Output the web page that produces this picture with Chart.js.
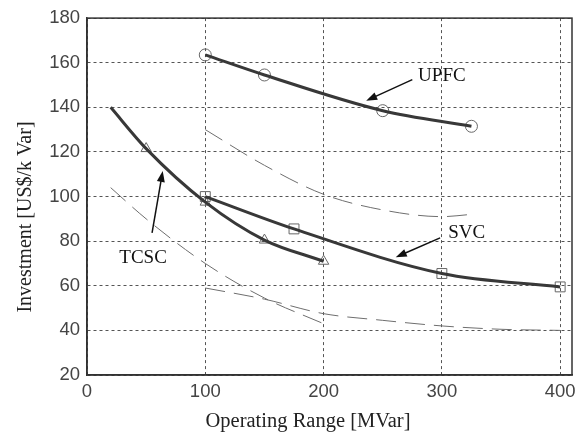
<!DOCTYPE html>
<html>
<head>
<meta charset="utf-8">
<script src="https://cdn.jsdelivr.net/npm/chart.js@4/dist/chart.umd.min.js"></script>
<style>
  html, body { margin: 0; padding: 0; background: #fff; }
</style>
</head>
<body>
<canvas id="chart" width="582" height="433"></canvas>
<script>
// Axis ticks
const xTicks = [0, 100, 200, 300, 400];
const yTicks = [20, 40, 60, 80, 100, 120, 140, 160, 180];
const xTitle = 'Operating Range [MVar]';
const yTitle = 'Investment [US$/k Var]';

// Solid curves
const upfcX = [100, 150, 250, 325];
const upfcY = [163.5, 154.5, 138.5, 131.5];
const svcX = [100, 175, 300, 400];
const svcY = [100, 85.5, 65.5, 59.5];
const tcscX = [20, 50, 100, 150, 200];
const tcscY = [140, 121.5, 97.5, 80.5, 71];

// Marker positions on the solid curves
const upfcMarkX = [100, 150, 250, 325];
const upfcMarkY = [163.5, 154.5, 138.5, 131.5];
const svcMarkX = [100, 175, 300, 400];
const svcMarkY = [100, 85.5, 65.5, 59.5];
const tcscMarkX = [50, 100, 150, 200];
const tcscMarkY = [121.5, 97.5, 80.5, 71];

// Thin dashed curves
const upfcDashX = [100, 150, 200, 250, 300, 325];
const upfcDashY = [130, 114, 101, 94, 91, 92];
const tcscDashX = [20, 50, 100, 150, 200];
const tcscDashY = [104, 90, 70, 54.5, 43];
const svcDashX = [100, 150, 200, 250, 300, 350, 400];
const svcDashY = [59, 54, 47.5, 44.5, 42, 40.5, 40];

// Labels with arrows (data units)
const notes = [
    { text: 'UPFC', at: [300, 154.2], from: [275, 152.4], to: [236, 143] },
    { text: 'SVC', at: [321, 83.7], from: [298.5, 81.5], to: [261, 72.8] },
    { text: 'TCSC', at: [47.4, 72.6], from: [55, 83.7], to: [64, 111.5] }
];

const pts = (xs, ys) => xs.map((x, i) => ({ x: x, y: ys[i] }));

const solid = (xs, ys) => ({
    data: pts(xs, ys),
    borderColor: '#383838',
    borderWidth: 3,
    pointRadius: 0,
    cubicInterpolationMode: 'monotone',
    fill: false
});

const dashed = (xs, ys) => ({
    data: pts(xs, ys),
    borderColor: '#6e6e6e',
    borderWidth: 1,
    borderDash: [20, 9],
    pointRadius: 0,
    cubicInterpolationMode: 'monotone',
    fill: false
});

const marks = (xs, ys, style, r) => ({
    data: pts(xs, ys),
    showLine: false,
    pointStyle: style,
    pointRadius: r,
    pointBorderColor: '#666',
    pointBackgroundColor: 'rgba(0,0,0,0)',
    pointBorderWidth: 1
});

const frameAndNotes = {
    id: 'frameAndNotes',
    afterDatasetsDraw(chart) {
        const { ctx, chartArea: a, scales: { x, y } } = chart;
        ctx.save();
        ctx.strokeStyle = '#333';
        ctx.lineWidth = 1.5;
        ctx.strokeRect(a.left, a.top, a.right - a.left, a.bottom - a.top);

        ctx.fillStyle = '#111';
        ctx.strokeStyle = '#111';
        ctx.font = '19px "Liberation Serif"';
        ctx.textAlign = 'center';
        ctx.textBaseline = 'middle';
        notes.forEach(n => {
            ctx.fillText(n.text, x.getPixelForValue(n.at[0]), y.getPixelForValue(n.at[1]));
            const x1 = x.getPixelForValue(n.from[0]), y1 = y.getPixelForValue(n.from[1]);
            const x2 = x.getPixelForValue(n.to[0]), y2 = y.getPixelForValue(n.to[1]);
            const ang = Math.atan2(y2 - y1, x2 - x1);
            ctx.lineWidth = 1.5;
            ctx.beginPath();
            ctx.moveTo(x1, y1);
            ctx.lineTo(x2 - 8 * Math.cos(ang), y2 - 8 * Math.sin(ang));
            ctx.stroke();
            // head
            ctx.beginPath();
            ctx.moveTo(x2, y2);
            ctx.lineTo(x2 - 11 * Math.cos(ang) + 4 * Math.sin(ang), y2 - 11 * Math.sin(ang) - 4 * Math.cos(ang));
            ctx.lineTo(x2 - 11 * Math.cos(ang) - 4 * Math.sin(ang), y2 - 11 * Math.sin(ang) + 4 * Math.cos(ang));
            ctx.closePath();
            ctx.fill();
        });

        // axis titles (placed a little off-centre, as in the original)
        ctx.fillStyle = '#222';
        ctx.font = '20.5px "Liberation Serif"';
        ctx.textBaseline = 'alphabetic';
        ctx.fillText(xTitle, 308, 427);
        ctx.translate(31, 217);
        ctx.rotate(-Math.PI / 2);
        ctx.font = '20px "Liberation Serif"';
        ctx.fillText(yTitle, 0, 0);
        ctx.restore();
    }
};

const tickFont = { family: '"Liberation Sans", Arial, sans-serif', size: 18.5 };

new Chart(document.getElementById('chart').getContext('2d'), {
    type: 'line',
    data: {
        datasets: [
            dashed(upfcDashX, upfcDashY),
            dashed(tcscDashX, tcscDashY),
            dashed(svcDashX, svcDashY),
            solid(upfcX, upfcY),
            solid(svcX, svcY),
            solid(tcscX, tcscY),
            marks(upfcMarkX, upfcMarkY, 'circle', 6),
            marks(svcMarkX, svcMarkY, 'rect', 7),
            marks(tcscMarkX, tcscMarkY, 'triangle', 6)
        ]
    },
    options: {
        responsive: false,
        animation: false,
        layout: { padding: { top: 16, right: 10, bottom: 0, left: 0 } },
        plugins: { legend: { display: false }, tooltip: { enabled: false } },
        scales: {
            x: {
                type: 'linear',
                min: 0,
                max: 410,
                afterBuildTicks: s => { s.ticks = xTicks.map(v => ({ value: v })); },
                afterFit: s => { s.height = 58; },
                ticks: { font: tickFont, color: '#444', padding: 6, maxRotation: 0, autoSkip: false },
                grid: { color: '#555', lineWidth: 1, drawTicks: false },
                border: { display: true, color: '#333', width: 1.5, dash: [3, 3] }
            },
            y: {
                type: 'linear',
                min: 20,
                max: 180,
                afterBuildTicks: s => { s.ticks = yTicks.map(v => ({ value: v })); },
                afterFit: s => { s.width = 87; },
                ticks: { font: tickFont, color: '#444', padding: 7 },
                grid: { color: '#555', lineWidth: 1, drawTicks: false },
                border: { display: true, color: '#333', width: 1.5, dash: [3, 3] }
            }
        }
    },
    plugins: [frameAndNotes]
});
</script>
</body>
</html>
